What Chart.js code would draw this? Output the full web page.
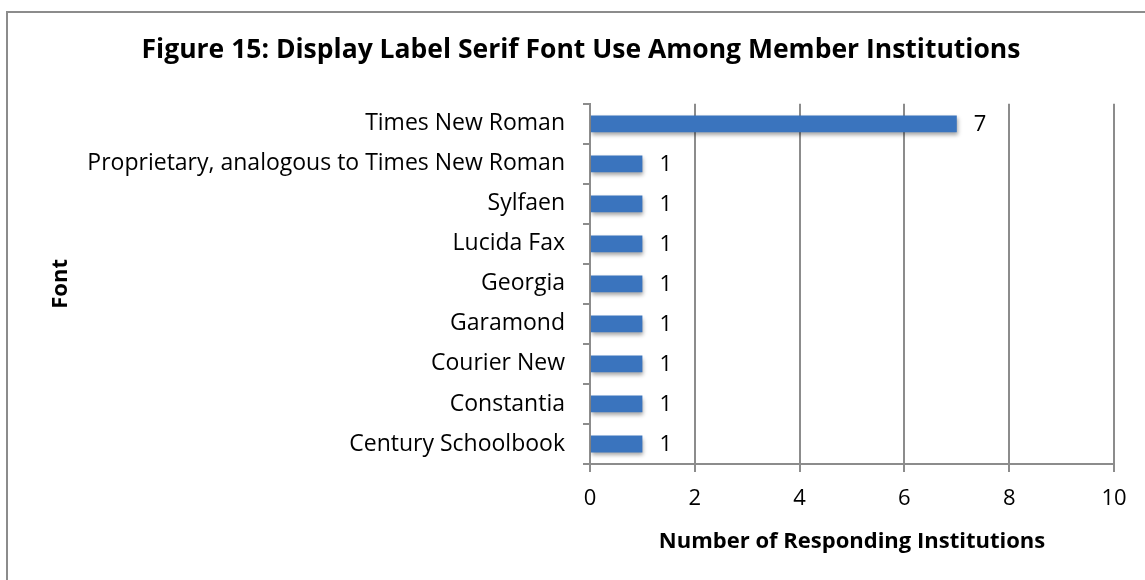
<!DOCTYPE html>
<html>
<head>
<meta charset="utf-8">
<script src="https://cdn.jsdelivr.net/npm/chart.js@4"></script>
<style>
  html, body { margin: 0; padding: 0; background: #fff; overflow: hidden; }
  #frame { position: absolute; left: 6px; top: 11px; width: 1200px; height: 700px; border: 2px solid #8c8c8c; }
  #wrap { position: absolute; left: 0; top: 0; width: 1145px; height: 580px; }
</style>
</head>
<body>
<div id="frame"></div>
<div id="wrap"><canvas id="chart" width="1145" height="580"></canvas></div>
<script>
const fonts = [
  "Times New Roman",
  "Proprietary, analogous to Times New Roman",
  "Sylfaen",
  "Lucida Fax",
  "Georgia",
  "Garamond",
  "Courier New",
  "Constantia",
  "Century Schoolbook"
];
const counts = [7, 1, 1, 1, 1, 1, 1, 1, 1];

const FONT = "'Open Sans', Lato, sans-serif";

// soft shadow under the bars
const barShadow = {
  id: "barShadow",
  beforeDatasetsDraw(chart) {
    const ctx = chart.ctx;
    ctx.save();
    ctx.shadowColor = "rgba(0,0,0,0.35)";
    ctx.shadowBlur = 4;
    ctx.shadowOffsetX = 1;
    ctx.shadowOffsetY = 3;
  },
  afterDatasetsDraw(chart) {
    chart.ctx.restore();
  }
};

// value labels to the right of each bar
const barLabels = {
  id: "barLabels",
  afterDatasetsDraw(chart) {
    const ctx = chart.ctx;
    const meta = chart.getDatasetMeta(0);
    ctx.save();
    ctx.font = "22px " + FONT;
    ctx.fillStyle = "#000";
    ctx.textAlign = "left";
    ctx.textBaseline = "middle";
    meta.data.forEach((bar, i) => {
      ctx.fillText(String(counts[i]), bar.x + 17, bar.y + 1);
    });
    ctx.restore();
  }
};

new Chart(document.getElementById("chart").getContext("2d"), {
  type: "bar",
  data: {
    labels: fonts,
    datasets: [{
      data: counts,
      backgroundColor: (c) => {
        const bar = c.chart.getDatasetMeta(0).data[c.dataIndex];
        if (!bar || bar.y === undefined) return "#3a74be";
        const g = c.chart.ctx.createLinearGradient(0, bar.y - 8, 0, bar.y + 8);
        g.addColorStop(0, "#4683cf");
        g.addColorStop(0.5, "#3a74be");
        g.addColorStop(1, "#2e609f");
        return g;
      },
      borderWidth: 0,
      barPercentage: 0.42,
      categoryPercentage: 1
    }]
  },
  options: {
    indexAxis: "y",
    responsive: false,
    animation: false,
    layout: { padding: { left: 48, right: 31, top: 35, bottom: 20 } },
    plugins: {
      legend: { display: false },
      tooltip: { enabled: false },
      title: {
        display: true,
        text: "Figure 15: Display Label Serif Font Use Among Member Institutions",
        color: "#000",
        font: { family: FONT, size: 26.5, weight: "bold" },
        padding: { top: 0, bottom: 37 }
      }
    },
    scales: {
      x: {
        min: 0,
        max: 10,
        ticks: { stepSize: 2, color: "#000", font: { family: FONT, size: 22 }, padding: 14 },
        grid: { color: "#8c8c8c", lineWidth: 2, tickLength: 8, tickColor: "#8c8c8c" },
        border: { color: "#8c8c8c", width: 2 },
        title: {
          display: true,
          text: "Number of Responding Institutions",
          color: "#000",
          font: { family: FONT, size: 22, weight: "bold" },
          padding: { top: 0, bottom: 5 }
        },
        afterFit(scale) { scale.height = 96; }
      },
      y: {
        ticks: { color: "#000", font: { family: FONT, size: 23 }, padding: 18 },
        grid: { drawOnChartArea: false, tickLength: 7, tickColor: "#8c8c8c", lineWidth: 2 },
        border: { color: "#8c8c8c", width: 2 },
        title: {
          display: true,
          text: "Font",
          color: "#000",
          font: { family: FONT, size: 22, weight: "bold" },
          padding: 0
        },
        afterFit(scale) { scale.width = 542; }
      }
    }
  },
  plugins: [barShadow, barLabels]
});
</script>
</body>
</html>
